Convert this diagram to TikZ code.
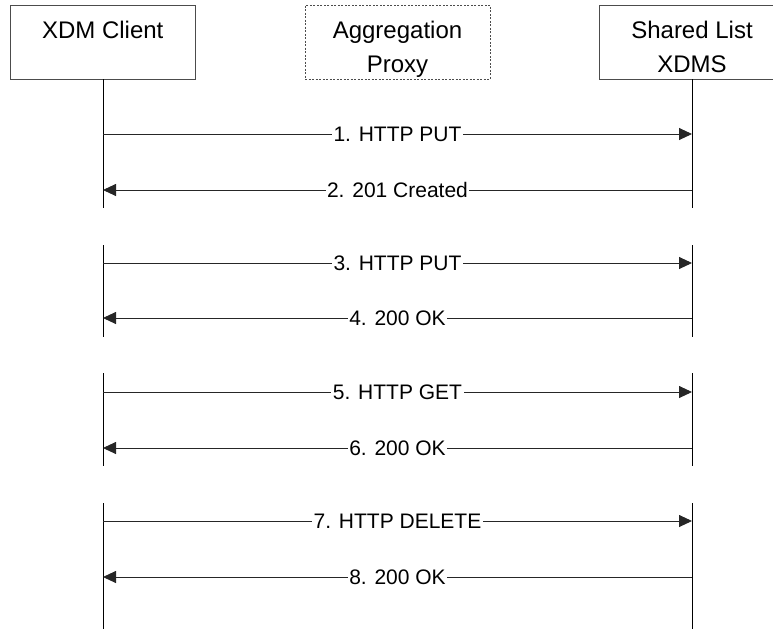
\documentclass[tikz,border=0pt]{standalone}
\usepackage{fontspec}
\setmainfont{Liberation Sans}
\usetikzlibrary{arrows.meta}
\begin{document}
\begin{tikzpicture}[x=1pt,y=-1pt,
  box/.style={draw=black!70, line width=0.9pt, minimum width=185pt, minimum height=74pt, inner sep=0pt},
  proxybox/.style={box, dash pattern=on 2pt off 1.5pt},
  hdr/.style={font=\fontsize{24}{34}\selectfont, align=center, anchor=north, inner sep=0pt},
  lifeline/.style={draw=black, line width=0.9pt},
  msg/.style={draw=black!85, line width=0.9pt, -{Triangle[length=13pt,width=12pt]}},
  lbl/.style={font=\fontsize{21}{24}\selectfont, fill=white, inner xsep=1.5pt, inner ysep=0pt}]
\useasboundingbox (0,0) rectangle (773,629);
\clip (0,0) rectangle (773,629);
% participants
\node[box] (client) at (102.75,42) {};
\node[proxybox] (proxy) at (397.5,42) {};
\node[box] (xdms) at (692,42) {};
\node[hdr] (clientt) at (102.75,21) {XDM Client};
\node[hdr] (proxyt) at (397.5,21) {Aggregation\\Proxy};
\node[hdr] (xdmst) at (692,21) {Shared List\\XDMS};
% lifeline segments
\coordinate (cA) at (103,208);
\coordinate (xA) at (692,208);
\draw[lifeline] (client.south -| cA) -- (cA);
\draw[lifeline] (xdms.south -| xA) -- (xA);
\foreach \ya/\yb [count=\i] in {245/337, 373/466, 503/629} {
  \coordinate (cs\i) at (103,\ya);
  \coordinate (ce\i) at (103,\yb);
  \coordinate (xs\i) at (692,\ya);
  \coordinate (xe\i) at (692,\yb);
  \draw[lifeline] (cs\i) -- (ce\i);
  \draw[lifeline] (xs\i) -- (xe\i);
}
% messages
\foreach \y/\txt/\dir [count=\i] in {
  134/{1. HTTP PUT}/r,
  190/{2. 201 Created}/l,
  263/{3. HTTP PUT}/r,
  318/{4. 200 OK}/l,
  392/{5. HTTP GET}/r,
  448/{6. 200 OK}/l,
  521/{7. HTTP DELETE}/r,
  577/{8. 200 OK}/l} {
  \coordinate (L\i) at (103,\y);
  \coordinate (R\i) at (692,\y);
  \if\dir r
    \draw[msg] (L\i) -- node[lbl] (m\i) {\txt} (R\i);
  \else
    \draw[msg] (R\i) -- node[lbl] (m\i) {\txt} (L\i);
  \fi
}
\end{tikzpicture}
\end{document}
